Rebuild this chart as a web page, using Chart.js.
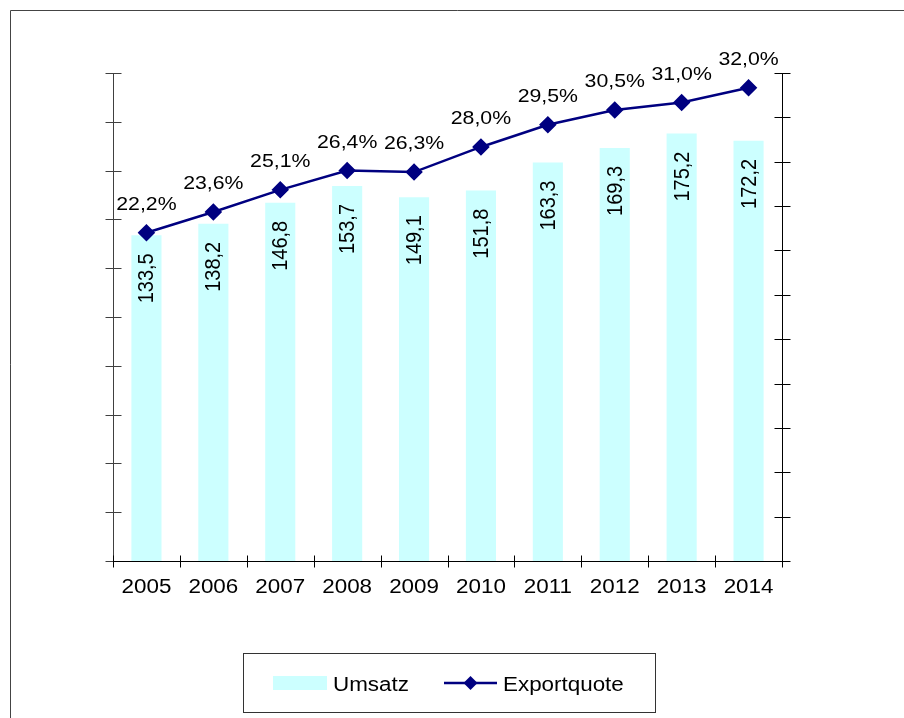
<!DOCTYPE html>
<html><head><meta charset="utf-8">
<script src="https://cdn.jsdelivr.net/npm/chart.js@4/dist/chart.umd.min.js"></script>
<style>html,body{margin:0;padding:0;background:#fff;overflow:hidden}#wrap{position:relative;width:904px;height:718px}</style>
</head><body><div id="wrap"><canvas id="c" width="904" height="718"></canvas></div>
<script>
const years = ['2005','2006','2007','2008','2009','2010','2011','2012','2013','2014'];
const umsatz = [133.5,138.2,146.8,153.7,149.1,151.8,163.3,169.3,175.2,172.2];
const exportquote = [22.2,23.6,25.1,26.4,26.3,28.0,29.5,30.5,31.0,32.0];
const leftAxis = {min:0, max:200, step:20};
const rightAxis = {min:0, max:33, step:3};
const seriesNames = ['Umsatz','Exportquote'];

const FAMILY = '"Liberation Sans", Arial, sans-serif';
const STRETCH = 1.12;
const BAR_COLOR = '#CCFFFF';
const LINE_COLOR = '#000080';
const fmt = v => v.toFixed(1).replace('.', ',');

function crisp(v){ return Math.round(v) + 0.5; }
function stretchedText(ctx, text, x, y, align, size){
  ctx.save();
  ctx.font = size + 'px ' + FAMILY;
  ctx.translate(x, y);
  ctx.scale(STRETCH, 1);
  ctx.textAlign = align;
  ctx.textBaseline = 'alphabetic';
  ctx.fillText(text, 0, 0);
  ctx.restore();
}

const decor = {
  id: 'decor',
  beforeDraw(chart){
    const ctx = chart.ctx;
    ctx.save();
    ctx.fillStyle = '#fff';
    ctx.fillRect(0,0,chart.width,chart.height);
    ctx.strokeStyle = '#444';
    ctx.lineWidth = 1;
    ctx.beginPath();
    ctx.moveTo(10.5, chart.height);
    ctx.lineTo(10.5, 10.5);
    ctx.lineTo(chart.width, 10.5);
    ctx.stroke();
    ctx.restore();
  },
  afterDatasetsDraw(chart){
    const ctx = chart.ctx;
    const ca = chart.chartArea;
    const xs = chart.scales.x, yl = chart.scales.y, yr = chart.scales.y1;
    ctx.save();
    ctx.lineWidth = 1;
    // left axis
    ctx.strokeStyle = '#404040';
    const lx = crisp(ca.left);
    ctx.beginPath(); ctx.moveTo(lx, ca.top); ctx.lineTo(lx, ca.bottom); ctx.stroke();
    yl.ticks.forEach(t => {
      const y = crisp(yl.getPixelForValue(t.value));
      ctx.beginPath(); ctx.moveTo(lx-8, y); ctx.lineTo(lx+8, y); ctx.stroke();
    });
    // right axis
    ctx.strokeStyle = '#000';
    const rx = crisp(ca.right);
    ctx.beginPath(); ctx.moveTo(rx, ca.top); ctx.lineTo(rx, ca.bottom); ctx.stroke();
    yr.ticks.forEach(t => {
      const y = crisp(yr.getPixelForValue(t.value));
      ctx.beginPath(); ctx.moveTo(rx-8, y); ctx.lineTo(rx+8, y); ctx.stroke();
    });
    // x axis
    const by = crisp(ca.bottom);
    ctx.beginPath(); ctx.moveTo(ca.left, by); ctx.lineTo(ca.right+1, by); ctx.stroke();
    for (let i = 0; i <= years.length; i++) {
      const x = crisp(xs.getPixelForValue(i - 0.5));
      ctx.beginPath(); ctx.moveTo(x, by-6); ctx.lineTo(x, by+6); ctx.stroke();
    }
    // x tick labels
    ctx.fillStyle = '#000';
    xs.ticks.forEach((t, i) => {
      stretchedText(ctx, xs.getLabelForValue(t.value), xs.getPixelForTick(i), ca.bottom + 32, 'center', 20);
    });
    ctx.restore();
  },
  afterDraw(chart){
    const ctx = chart.ctx;
    ctx.save();
    ctx.fillStyle = '#000';
    // bar labels (rotated)
    const barMeta = chart.getDatasetMeta(1);
    barMeta.data.forEach((el, i) => {
      ctx.save();
      ctx.font = '20px ' + FAMILY;
      ctx.translate(el.x, el.y + 18);
      ctx.rotate(-Math.PI/2);
      ctx.scale(1, 1.08);
      ctx.textAlign = 'right';
      ctx.textBaseline = 'middle';
      ctx.fillText(fmt(umsatz[i]), 0, 1);
      ctx.restore();
    });
    // line labels
    const lineMeta = chart.getDatasetMeta(0);
    lineMeta.data.forEach((el, i) => {
      stretchedText(ctx, fmt(exportquote[i]) + '%', el.x, el.y - 23, 'center', 19);
    });
    // legend
    ctx.strokeStyle = '#333';
    ctx.lineWidth = 1;
    ctx.strokeRect(243.5, 653.5, 412, 59);
    ctx.fillStyle = BAR_COLOR;
    ctx.fillRect(273, 676, 54, 14);
    ctx.fillStyle = '#000';
    stretchedText(ctx, seriesNames[0], 333, 691, 'left', 20);
    ctx.strokeStyle = LINE_COLOR;
    ctx.lineWidth = 2.5;
    ctx.beginPath(); ctx.moveTo(444, 683); ctx.lineTo(497, 683); ctx.stroke();
    ctx.fillStyle = LINE_COLOR;
    ctx.beginPath();
    ctx.moveTo(470.5, 676); ctx.lineTo(477.5, 683); ctx.lineTo(470.5, 690); ctx.lineTo(463.5, 683); ctx.closePath(); ctx.fill();
    ctx.fillStyle = '#000';
    stretchedText(ctx, seriesNames[1], 503, 691, 'left', 20);
    ctx.restore();
  }
};

new Chart(document.getElementById('c'), {
  data: {
    labels: years,
    datasets: [
      {
        type: 'line', label: seriesNames[1], data: exportquote, yAxisID: 'y1', order: 0,
        borderColor: LINE_COLOR, backgroundColor: LINE_COLOR, borderWidth: 2.5,
        pointStyle: 'rectRot', pointRadius: 7, pointHoverRadius: 7, tension: 0, fill: false
      },
      {
        type: 'bar', label: seriesNames[0], data: umsatz, yAxisID: 'y', order: 1,
        backgroundColor: BAR_COLOR, borderWidth: 0,
        categoryPercentage: 1, barPercentage: 0.45
      }
    ]
  },
  options: {
    responsive: false, animation: false, devicePixelRatio: 1,
    layout: { padding: { left: 113, right: 122, top: 73, bottom: 117 } },
    plugins: { legend: { display: false }, tooltip: { enabled: false } },
    scales: {
      x: {
        offset: true,
        grid: { display: false, drawTicks: false },
        border: { display: false },
        ticks: { display: false, autoSkip: false },
        afterFit(s){ s.height = 40; }
      },
      y: { position: 'left', display: false, min: leftAxis.min, max: leftAxis.max, ticks: { stepSize: leftAxis.step } },
      y1: { position: 'right', display: false, min: rightAxis.min, max: rightAxis.max, ticks: { stepSize: rightAxis.step } }
    }
  },
  plugins: [decor]
});
</script>
</body></html>
